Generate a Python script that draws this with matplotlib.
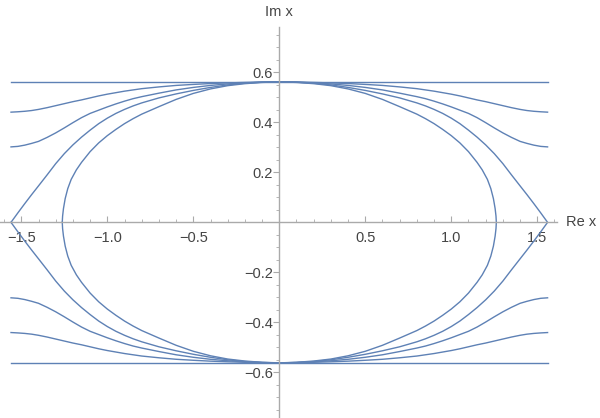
import numpy as np
import matplotlib
matplotlib.use("Agg")
import matplotlib.pyplot as plt

# upper-left quarter of each curve (Re x, Im x)
flat_x = [-1.560, 0.0]
flat_y = [0.5624, 0.5624]

qx = [-1.56, -1.52, -1.48, -1.44, -1.40, -1.35, -1.30, -1.25, -1.20, -1.15, -1.10, -1.05,
      -1.00, -0.95, -0.90, -0.85, -0.80, -0.70, -0.60, -0.50, -0.40, -0.30, -0.20, -0.10, 0.0]

c2_y = [0.441, 0.4425, 0.4445, 0.4475, 0.452, 0.459, 0.467, 0.475, 0.483, 0.490, 0.498, 0.506,
        0.513, 0.519, 0.525, 0.530, 0.535, 0.542, 0.548, 0.552, 0.5555, 0.558, 0.560, 0.5617, 0.5624]

c3_y = [0.302, 0.304, 0.309, 0.316, 0.324, 0.340, 0.358, 0.378, 0.399, 0.419, 0.436, 0.449,
        0.462, 0.474, 0.485, 0.495, 0.503, 0.517, 0.530, 0.540, 0.548, 0.554, 0.558, 0.561, 0.5624]

c4_y = [0.0, 0.038, 0.075, 0.111, 0.146, 0.190, 0.235, 0.275, 0.310, 0.341, 0.369, 0.395,
        0.417, 0.436, 0.452, 0.466, 0.478, 0.498, 0.514, 0.528, 0.540, 0.550, 0.557, 0.561, 0.5624]

c5_x = [-1.262, -1.260, -1.255, -1.245, -1.230, -1.210, -1.180, -1.15, -1.10, -1.05, -1.00, -0.95,
        -0.90, -0.85, -0.80, -0.70, -0.60, -0.50, -0.40, -0.30, -0.20, -0.10, 0.0]
c5_y = [0.0, 0.025, 0.055, 0.095, 0.135, 0.172, 0.210, 0.240, 0.283, 0.318, 0.347, 0.372,
        0.395, 0.415, 0.433, 0.463, 0.492, 0.516, 0.534, 0.547, 0.555, 0.560, 0.5624]

curves = [(flat_x, flat_y), (qx, c2_y), (qx, c3_y), (qx, c4_y), (c5_x, c5_y)]

xticks = [-1.5, -1.0, -0.5, 0.5, 1.0, 1.5]
yticks = [-0.6, -0.4, -0.2, 0.2, 0.4, 0.6]

col = "#5E81B5"
axcol = "#aaaaaa"
txtcol = "#444444"
plt.rcParams['font.family'] = ['Liberation Sans', 'DejaVu Sans']

fig = plt.figure(figsize=(6, 4.18), dpi=100)
ax = fig.add_axes([0, 0, 556.7/600, 391.3/418])

for cx, cy in curves:
    cx = np.array(cx); cy = np.array(cy)
    # picture is symmetric: mirror the quarter to the right half, then to the lower half
    hx = np.concatenate([cx, -cx[-2::-1]])
    hy = np.concatenate([cy, cy[-2::-1]])
    if hy[0] == 0:
        # closed / cornered curves: go round the whole loop
        fx = np.concatenate([hx, hx[-2::-1]])
        fy = np.concatenate([hy, -hy[-2::-1]])
        ax.plot(fx, fy, color=col, lw=1.0)
    else:
        ax.plot(hx, hy, color=col, lw=1.0)
        ax.plot(hx, -hy, color=col, lw=1.0)

ax.set_xlim(-1.624, 1.613)
ax.set_ylim(-0.783, 0.783)

for s in ['top', 'right']:
    ax.spines[s].set_visible(False)
ax.spines['left'].set_position(('data', 0))
ax.spines['bottom'].set_position(('data', 0))
for s in ['left', 'bottom']:
    ax.spines[s].set_color(axcol)
    ax.spines[s].set_linewidth(1.0)

def lab(v):
    return "\u2212%.1f" % -v if v < 0 else "%.1f" % v

ax.set_xticks(xticks)
ax.set_xticklabels([lab(v) for v in xticks])
ax.set_yticks(yticks)
ax.set_yticklabels([lab(v) for v in yticks])
ax.set_xticks(np.arange(-1.6, 1.61, 0.1), minor=True)
ax.set_yticks(np.arange(-0.75, 0.76, 0.05), minor=True)

ax.tick_params(axis='x', which='both', direction='in', colors=axcol, labelcolor=txtcol, labelsize=10.5, pad=6.5)
ax.tick_params(axis='y', which='both', direction='out', colors=axcol, labelcolor=txtcol, labelsize=10.5, pad=0.5)
ax.tick_params(which='major', length=4, width=0.8)
ax.tick_params(which='minor', length=2.5, width=0.6)

fig.text(566/600, 1 - 222/418, "Re x", color=txtcol, fontsize=10.5, va='center', ha='left')
fig.text(279.3/600, 1 - 12/418, "Im x", color=txtcol, fontsize=10.5, va='center', ha='center')

fig.savefig("out.png", dpi=100)
